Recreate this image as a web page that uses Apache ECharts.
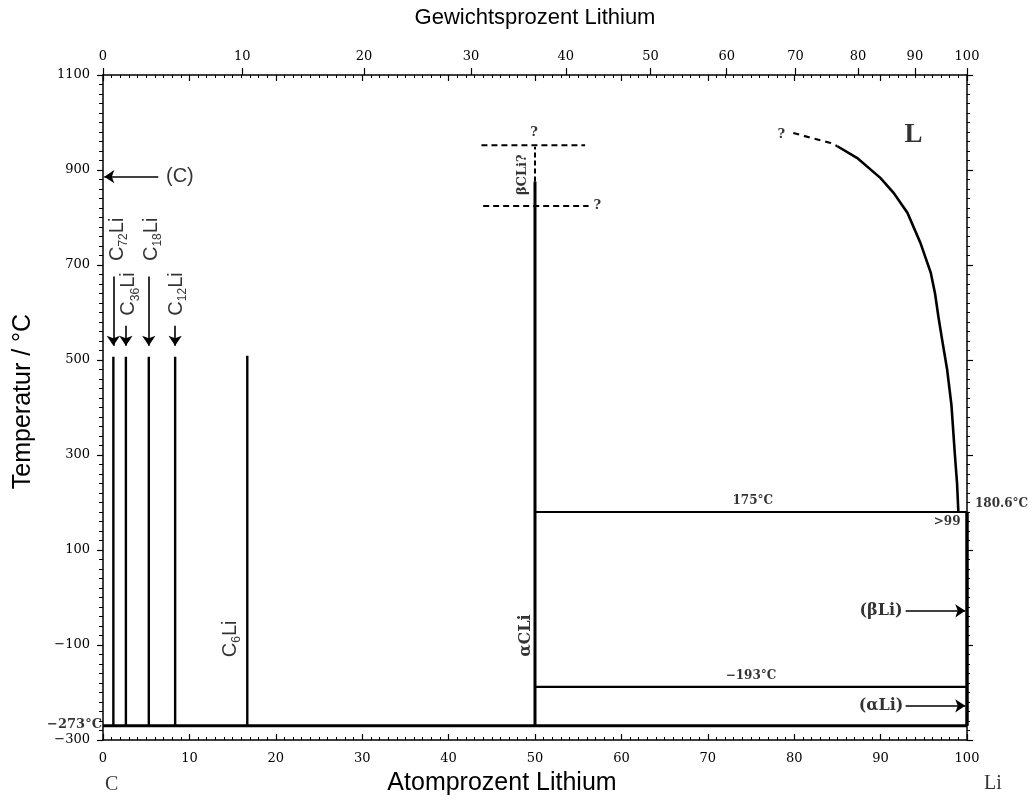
<!DOCTYPE html>
<html><head><meta charset="utf-8">
<script src="https://cdn.jsdelivr.net/npm/echarts@6/dist/echarts.min.js"></script>
<style>html,body{margin:0;padding:0;background:#fff}#c{width:1035px;height:801px}</style>
</head><body><div id="c"></div>
<script>
// ================= DATA =================
// axes
const atMin = 0, atMax = 100, atInterval = 10;
const tMin = -300, tMax = 1100, tInterval = 200;
const wtTickLabels = [0, 10, 20, 30, 40, 50, 60, 70, 80, 90, 100];   // Gewichtsprozent
const massLi = 6.94, massC = 12.011;                                 // g/mol

// compounds (vertical phase lines)
const compoundNames = [['C','72','Li'], ['C','36','Li'], ['C','18','Li'], ['C','12','Li'], ['C','6','Li']];
const compoundAt    = [1.2, 2.65, 5.3, 8.35, 16.7];
const compoundTop   = [507, 507, 507, 507, 509];
const compoundLabelAt = [1.62, 3.0, 5.56, 8.45, 14.7];
const compoundLabelT  = [754, 639, 754, 639, -87];
const compoundArrowFrom = [676, 572, 676, 572, null];
const compoundArrowTo   = [530, 530, 530, 530, null];

const baseT = -270;              // −273 °C line (as drawn)
const cliAt = 50;                // CLi composition
const cliSolidTop = 876;
const cliDashTop = 949;
const betaUpperT = 952, betaUpperX = [43.8, 55.8];
const betaLowerT = 824, betaLowerX = [44.0, 56.2];
const eutecticT = 180;           // "175 °C" line (as drawn)
const alphaBetaT = -188;         // "−193 °C" line (as drawn)
const liMeltT = 180.6;

// liquidus
const liquidusDashed = [[79.9, 978], [82.1, 967], [84.2, 957], [85.0, 950]];
const liquidusSolid  = [[85.0, 950], [87.3, 925], [90.0, 883], [91.5, 852], [93.1, 810], [94.6, 747],
                        [95.8, 684], [96.3, 640], [96.7, 590], [97.1, 545], [97.7, 480], [98.2, 405],
                        [98.6, 300], [98.85, 240], [99.0, 180]];

// other arrows
const graphiteArrow = [[6.4, 886], [0.15, 886]];
const betaLiArrow   = [[92.9, -28], [99.8, -28]];
const alphaLiArrow  = [[92.9, -228], [99.8, -228]];

// text annotations [text, at%, T]
const annotations = [
  ['(C)', 8.9, 886],
  ['L', 93.8, 974],
  ['?', 49.9, 978],
  ['?', 57.2, 825],
  ['?', 78.5, 974],
  ['\u03b2CLi?', 48.6, 890],
  ['\u03b1CLi', 48.9, -80],
  ['175\u00b0C', 75.2, 203],
  ['\u2212193\u00b0C', 75.0, -164],
  ['(\u03b2Li)', 90.05, -28.5],
  ['(\u03b1Li)', 90.05, -227.7],
  ['180.6\u00b0C', 100, 198],
  ['>99', 97.7, 160],
  ['\u2212273\u00b0C', 0, -267],
  ['C', 1.0, -300],
  ['Li', 100, -300]
];

// ================= BUILD =================
const wtToAt = w => (w / massLi) / (w / massLi + (100 - w) / massC) * 100;
const topAtValues = wtTickLabels.map(wtToAt);

const annStyles = [
  {fontFamily: 'Liberation Sans', fontSize: 20},
  {fontFamily: 'Liberation Serif', fontWeight: 'bold', fontSize: 27},
  {fontFamily: 'DejaVu Serif', fontWeight: 'bold', fontSize: 13},
  {fontFamily: 'DejaVu Serif', fontWeight: 'bold', fontSize: 13},
  {fontFamily: 'DejaVu Serif', fontWeight: 'bold', fontSize: 13},
  {fontFamily: 'DejaVu Serif', fontWeight: 'bold', fontSize: 13, rotate: 90},
  {fontFamily: 'DejaVu Serif', fontWeight: 'bold', fontSize: 16, rotate: 90},
  {fontFamily: 'DejaVu Serif', fontWeight: 'bold', fontSize: 12},
  {fontFamily: 'DejaVu Serif', fontWeight: 'bold', fontSize: 12},
  {fontFamily: 'DejaVu Serif', fontWeight: 'bold', fontSize: 16},
  {fontFamily: 'DejaVu Serif', fontWeight: 'bold', fontSize: 16},
  {fontFamily: 'DejaVu Serif', fontWeight: 'bold', fontSize: 12, position: 'right', distance: 8},
  {fontFamily: 'DejaVu Serif', fontWeight: 'bold', fontSize: 12},
  {fontFamily: 'DejaVu Serif', fontWeight: 'bold', fontSize: 13, position: 'left', distance: 1},
  {fontFamily: 'Liberation Serif', fontSize: 20, offset: [0, 45]},
  {fontFamily: 'Liberation Serif', fontSize: 20, offset: [26, 44]}
];

const annData = annotations.map((a, i) => ({
  value: [a[1], a[2]],
  label: Object.assign({show: true, formatter: a[0], color: '#000', position: 'inside'}, annStyles[i])
}));
compoundNames.forEach((n, i) => {
  annData.push({
    value: [compoundLabelAt[i], compoundLabelT[i]],
    label: {
      show: true, position: 'inside', rotate: 90, color: '#000',
      formatter: '{c|' + n[0] + '}{s|' + n[1] + '}{c|' + n[2] + '}',
      rich: {
        c: {fontFamily: 'Liberation Sans', fontSize: 20, lineHeight: 26, color: '#000'},
        s: {fontFamily: 'Liberation Sans', fontSize: 12, lineHeight: 14, verticalAlign: 'bottom', color: '#000'}
      }
    }
  });
});

function seg(coordsList, width, type) {
  return {
    type: 'lines', coordinateSystem: 'cartesian2d', polyline: true, clip: false, silent: true,
    lineStyle: {color: '#000', width: width, type: type || 'solid', opacity: 1},
    data: coordsList.map(c => ({coords: c})),
    z: 3
  };
}

const compoundLines = compoundAt.map((x, i) => [[x, baseT], [x, compoundTop[i]]]);
const compoundArrows = compoundAt.map((x, i) => compoundArrowFrom[i] == null ? null :
  [[x, compoundArrowFrom[i]], [x, compoundArrowTo[i]]]).filter(Boolean);

const series = [
  seg(compoundLines, 2.4),
  seg([[[atMin, baseT], [atMax, baseT]]], 3),
  seg([[[cliAt, baseT], [cliAt, cliSolidTop]]], 3),
  seg([[[cliAt, cliSolidTop], [cliAt, cliDashTop]]], 2, [5, 3]),
  seg([[[betaUpperX[0], betaUpperT], [betaUpperX[1], betaUpperT]],
       [[betaLowerX[0], betaLowerT], [betaLowerX[1], betaLowerT]]], 2, [6, 4]),
  seg([[[cliAt, eutecticT], [atMax, eutecticT]]], 2.2),
  seg([[[cliAt, alphaBetaT], [atMax, alphaBetaT]]], 2.2),
  seg([[[atMax, baseT], [atMax, liMeltT]]], 3.5),
  seg([liquidusDashed], 2.2, [6, 5]),
  seg([liquidusSolid], 2.6),
  {
    type: 'lines', coordinateSystem: 'cartesian2d', clip: false, silent: true,
    symbol: ['none', 'arrow'], symbolSize: 10,
    lineStyle: {color: '#000', width: 1.6, opacity: 1},
    data: compoundArrows.concat([graphiteArrow, betaLiArrow, alphaLiArrow]).map(c => ({coords: c})),
    z: 4
  },
  {
    type: 'scatter', symbolSize: 0, silent: true, clip: false, z: 5,
    data: annData
  }
];

const serifTick = {fontFamily: 'DejaVu Serif', fontSize: 13, color: '#000'};
const axisLineStyle = {color: '#000', width: 1.5};
const tickStyle = {color: '#000', width: 1.2};

const option = {
  backgroundColor: '#fff',
  animation: false,
  grid: {left: 103, right: 68, top: 75, bottom: 58.5, containLabel: false},
  xAxis: [
    {
      type: 'value', position: 'bottom', min: atMin, max: atMax, interval: atInterval,
      name: 'Atomprozent Lithium', nameLocation: 'middle', nameGap: 31,
      nameTextStyle: {fontFamily: 'Liberation Sans', fontSize: 25, color: '#000', padding: [0, 66, 0, 0]},
      axisLine: {show: true, onZero: false, lineStyle: axisLineStyle},
      axisTick: {show: true, inside: true, length: 6, lineStyle: tickStyle},
      minorTick: {show: true, splitNumber: 10, length: 3, lineStyle: {color: '#000', width: 1}},
      axisLabel: Object.assign({margin: 12}, serifTick),
      splitLine: {show: false}
    },
    {
      type: 'value', position: 'top', min: atMin, max: atMax, interval: atInterval,
      axisLine: {show: true, onZero: false, lineStyle: axisLineStyle},
      axisTick: {show: true, inside: true, length: 6, lineStyle: tickStyle},
      minorTick: {show: true, splitNumber: 10, length: 3, lineStyle: {color: '#000', width: 1}},
      axisLabel: {show: false},
      splitLine: {show: false}
    },
    {
      type: 'value', position: 'top', min: atMin, max: atMax,
      name: 'Gewichtsprozent Lithium', nameLocation: 'middle', nameGap: 46,
      nameTextStyle: {fontFamily: 'Liberation Sans', fontSize: 22, color: '#000'},
      axisLine: {show: false, onZero: false},
      axisTick: {show: true, inside: false, length: 7, customValues: topAtValues, lineStyle: tickStyle},
      axisLabel: Object.assign({
        margin: 12, customValues: topAtValues,
        formatter: v => {
          const i = topAtValues.findIndex(a => Math.abs(a - v) < 1e-6);
          return i >= 0 ? String(wtTickLabels[i]) : '';
        }
      }, serifTick),
      splitLine: {show: false}
    }
  ],
  yAxis: [
    {
      type: 'value', position: 'left', min: tMin, max: tMax, interval: tInterval,
      name: 'Temperatur / \u00b0C', nameLocation: 'middle', nameGap: 67, nameRotate: 90,
      nameTextStyle: {fontFamily: 'Liberation Sans', fontSize: 25, color: '#000', padding: [0, 0, 0, 12]},
      axisLine: {show: true, onZero: false, lineStyle: axisLineStyle},
      axisTick: {show: true, inside: false, length: 6, lineStyle: tickStyle},
      minorTick: {show: true, splitNumber: 10, length: 4, lineStyle: {color: '#000', width: 1}},
      axisLabel: Object.assign({margin: 13, formatter: v => String(v).replace('-', '\u2212')}, serifTick),
      splitLine: {show: false}
    },
    {
      type: 'value', position: 'right', min: tMin, max: tMax, interval: tInterval,
      axisLine: {show: true, onZero: false, lineStyle: axisLineStyle},
      axisTick: {show: true, inside: false, length: 6, lineStyle: tickStyle},
      minorTick: {show: true, splitNumber: 10, length: 3, lineStyle: {color: '#000', width: 1}},
      axisLabel: {show: false},
      splitLine: {show: false}
    }
  ],
  series: series
};

const chart = echarts.init(document.getElementById('c'), null, {renderer: 'canvas'});
chart.setOption(option);
</script>
</body></html>
